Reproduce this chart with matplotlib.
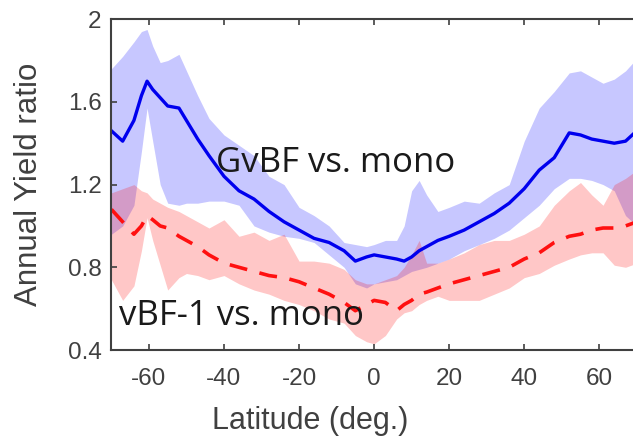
import matplotlib
matplotlib.use('Agg')
import matplotlib.pyplot as plt

# latitude grid (deg)
lat = [-70, -67, -64, -62, -60.5, -59, -57, -55, -52, -50, -47, -44, -40, -36,
       -32, -28, -24, -20, -16, -12, -8, -5, -2, 0, 3, 6, 8, 10, 12, 14, 17,
       20, 24, 28, 32, 36, 40, 44, 48, 52, 55, 58, 61, 64, 67, 70]

# GvBF vs. mono: mean and band
gvbf_mean = [1.46, 1.41, 1.51, 1.63, 1.70, 1.66, 1.62, 1.58, 1.57, 1.51, 1.42,
             1.34, 1.24, 1.17, 1.13, 1.07, 1.02, 0.98, 0.94, 0.92, 0.88, 0.83,
             0.85, 0.86, 0.85, 0.84, 0.83, 0.85, 0.88, 0.90, 0.93, 0.95, 0.98,
             1.02, 1.06, 1.11, 1.18, 1.27, 1.33, 1.45, 1.44, 1.42, 1.41, 1.40,
             1.41, 1.46]
gvbf_hi = [1.76, 1.82, 1.89, 1.94, 1.95, 1.87, 1.79, 1.80, 1.83, 1.75, 1.63,
           1.52, 1.44, 1.39, 1.34, 1.24, 1.20, 1.09, 1.05, 1.00, 0.92, 0.91,
           0.90, 0.91, 0.93, 0.93, 1.00, 1.17, 1.22, 1.15, 1.07, 1.09, 1.12,
           1.11, 1.16, 1.20, 1.41, 1.57, 1.65, 1.74, 1.75, 1.72, 1.69, 1.71,
           1.75, 1.81]
gvbf_lo = [0.96, 1.00, 1.10, 1.36, 1.57, 1.41, 1.20, 1.11, 1.10, 1.11, 1.11,
           1.12, 1.12, 1.10, 1.00, 0.97, 0.95, 0.94, 0.92, 0.86, 0.80, 0.72,
           0.70, 0.72, 0.73, 0.74, 0.76, 0.78, 0.79, 0.80, 0.82, 0.84, 0.88,
           0.91, 0.94, 0.98, 1.04, 1.10, 1.18, 1.23, 1.23, 1.22, 1.20, 1.17,
           1.05, 1.00]

# vBF-1 vs. mono: mean and band
vbf_mean = [1.08, 1.02, 0.96, 1.00, 1.05, 1.03, 1.00, 0.99, 0.95, 0.93, 0.90,
            0.86, 0.82, 0.80, 0.78, 0.76, 0.75, 0.73, 0.70, 0.67, 0.63, 0.59,
            0.62, 0.64, 0.63, 0.59, 0.62, 0.64, 0.67, 0.68, 0.70, 0.72, 0.74,
            0.76, 0.78, 0.80, 0.84, 0.87, 0.92, 0.95, 0.96, 0.98, 0.99, 0.99,
            1.00, 1.02]
vbf_hi = [1.16, 1.18, 1.20, 1.17, 1.16, 1.13, 1.11, 1.09, 1.07, 1.05, 1.02,
          0.99, 1.03, 0.95, 0.97, 0.93, 0.96, 0.83, 0.83, 0.82, 0.79, 0.74,
          0.72, 0.72, 0.74, 0.76, 0.80, 0.86, 0.93, 0.82, 0.82, 0.84, 0.87,
          0.91, 0.93, 0.93, 0.96, 1.00, 1.10, 1.17, 1.21, 1.15, 1.10, 1.20,
          1.23, 1.27]
vbf_lo = [0.74, 0.64, 0.71, 0.88, 1.04, 0.93, 0.81, 0.69, 0.75, 0.77, 0.76,
          0.74, 0.76, 0.72, 0.69, 0.67, 0.64, 0.62, 0.59, 0.55, 0.53, 0.47,
          0.44, 0.43, 0.47, 0.55, 0.58, 0.59, 0.62, 0.64, 0.66, 0.64, 0.64,
          0.64, 0.67, 0.70, 0.75, 0.77, 0.81, 0.84, 0.86, 0.87, 0.87, 0.81,
          0.80, 0.82]

xticks = [-60, -40, -20, 0, 20, 40, 60]
yticks = [0.4, 0.8, 1.2, 1.6, 2.0]
ytick_labels = ['0.4', '0.8', '1.2', '1.6', '2']

plt.rcParams['font.family'] = ['Liberation Sans', 'DejaVu Sans']
plt.rcParams['axes.unicode_minus'] = False
grey = '#404040'

fig = plt.figure(figsize=(6.33, 4.40), dpi=100)
ax = fig.add_axes([0.176, 0.2045, 0.83, 0.752])

ax.fill_between(lat, gvbf_lo, gvbf_hi, color='#0000ff', alpha=0.22, lw=0)
ax.fill_between(lat, vbf_lo, vbf_hi, color='#ff0000', alpha=0.22, lw=0)
ax.plot(lat, gvbf_mean, color='#0000ee', lw=2.4)
ax.plot(lat, vbf_mean, color='#ff1010', lw=2.6, dashes=(5, 3.5))

ax.text(-42, 1.305, 'GvBF vs. mono', fontsize=25, color='#1a1a1a',
        family=['Open Sans', 'DejaVu Sans'], va='center', ha='left')
ax.text(-68, 0.565, 'vBF-1 vs. mono', fontsize=25, color='#1a1a1a',
        family=['Open Sans', 'DejaVu Sans'], va='center', ha='left')

ax.set_xlim(-70, 70)
ax.set_ylim(0.4, 2.0)
ax.set_xticks(xticks)
ax.set_yticks(yticks)
ax.set_yticklabels(ytick_labels)
ax.tick_params(direction='in', length=4, width=1.2, colors=grey,
               labelsize=17.5, top=True, right=False)
ax.tick_params(axis='x', pad=13)
ax.tick_params(axis='y', pad=7)
for s in ax.spines.values():
    s.set_color(grey)
    s.set_linewidth(1.5)
ax.spines['right'].set_visible(False)

ax.set_xlabel('Latitude (deg.)', fontsize=22, color=grey)
ax.set_ylabel('Annual Yield ratio', fontsize=22.5, color=grey)
ax.xaxis.set_label_coords(0.378, -0.17)
ax.yaxis.set_label_coords(-0.128, 0.5)

plt.savefig('out.png', dpi=100)
plt.close(fig)
